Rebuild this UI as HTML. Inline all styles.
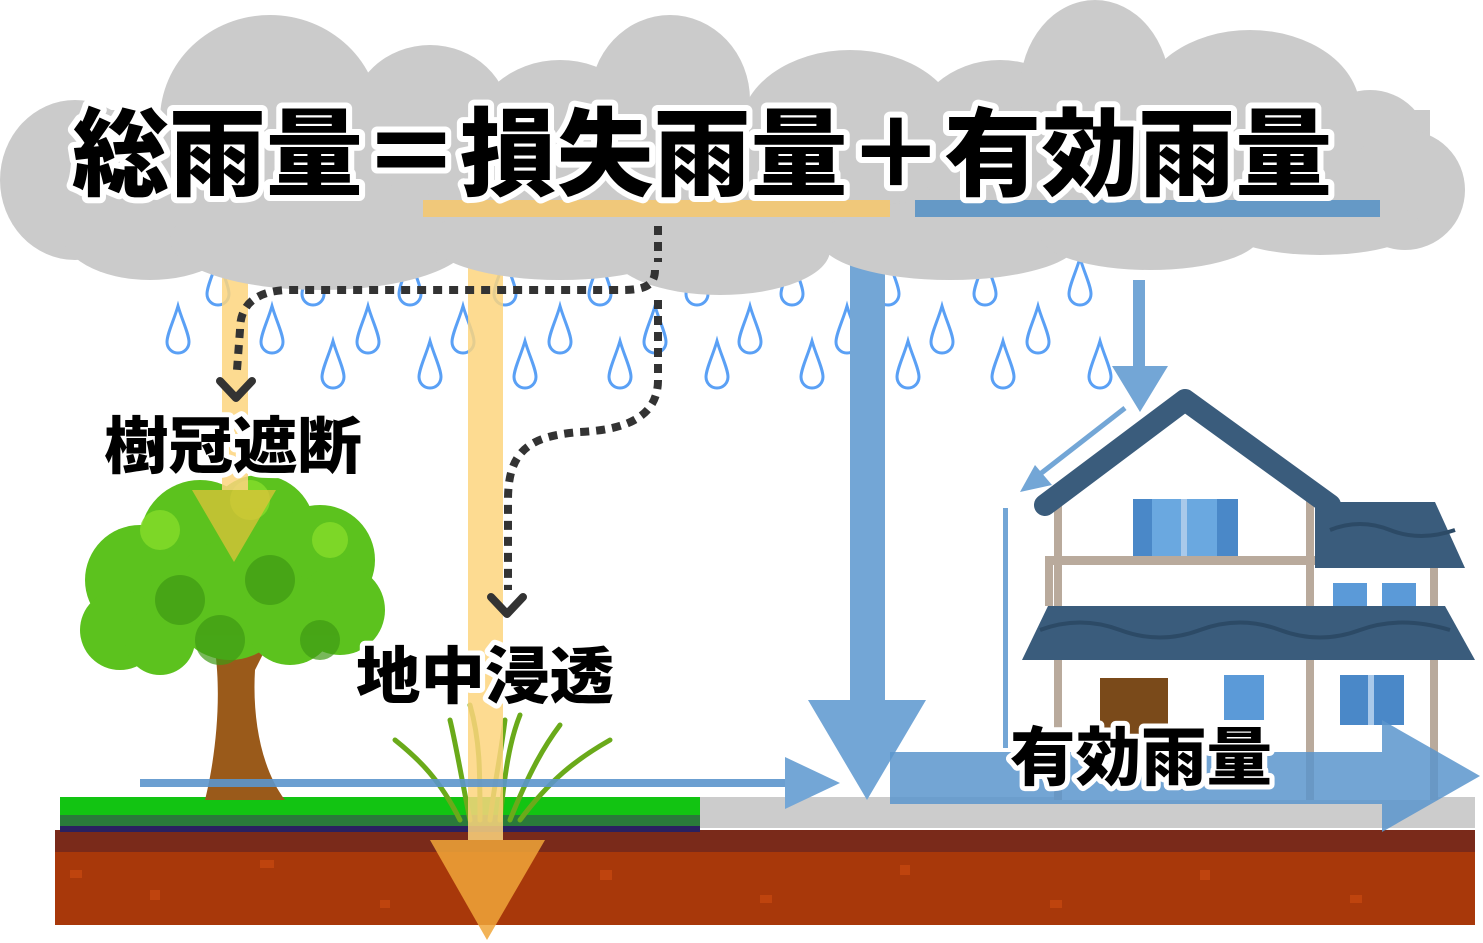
<!DOCTYPE html>
<html><head><meta charset="utf-8"><style>
html,body{margin:0;padding:0;background:#fff;}
svg{display:block}
text{font-family:"Liberation Sans","Noto Sans CJK JP",sans-serif;font-weight:900;}
</style></head><body>
<svg width="1483" height="943" viewBox="0 0 1483 943" xmlns="http://www.w3.org/2000/svg">
<defs>
<path id="drop" d="M0,-24 C4,-10 11,4 11,12 A11,11 0 0 1 -11,12 C-11,4 -4,-10 0,-24 Z" fill="none" stroke="#5aa0f5" stroke-width="3"/>
</defs>
<rect width="1483" height="943" fill="#fff"/>

<g>
<use href="#drop" x="218" y="282"/><use href="#drop" x="313" y="282"/><use href="#drop" x="410" y="282"/><use href="#drop" x="505" y="282"/><use href="#drop" x="600" y="282"/><use href="#drop" x="697" y="282"/><use href="#drop" x="792" y="282"/><use href="#drop" x="888" y="282"/><use href="#drop" x="985" y="282"/><use href="#drop" x="1080" y="282"/>
<use href="#drop" x="178" y="330"/><use href="#drop" x="272" y="330"/><use href="#drop" x="368" y="330"/><use href="#drop" x="463" y="330"/><use href="#drop" x="560" y="330"/><use href="#drop" x="655" y="330"/><use href="#drop" x="750" y="330"/><use href="#drop" x="847" y="330"/><use href="#drop" x="942" y="330"/><use href="#drop" x="1038" y="330"/>
<use href="#drop" x="333" y="365"/><use href="#drop" x="430" y="365"/><use href="#drop" x="525" y="365"/><use href="#drop" x="620" y="365"/><use href="#drop" x="717" y="365"/><use href="#drop" x="812" y="365"/><use href="#drop" x="908" y="365"/><use href="#drop" x="1003" y="365"/><use href="#drop" x="1100" y="365"/>
</g>

<rect x="55" y="830" width="1420" height="95" fill="#a8380a"/>
<rect x="55" y="830" width="1420" height="22" fill="#7a2a1a"/>
<rect x="60" y="797" width="640" height="22" fill="#12c412"/>
<rect x="60" y="815" width="640" height="15" fill="#2a7a3a"/>
<rect x="60" y="826" width="640" height="6" fill="#2a2060"/>
<rect x="700" y="797" width="775" height="31" fill="#cccccc"/>
<g fill="#c94a10" opacity="0.7">
<rect x="70" y="870" width="12" height="8"/><rect x="150" y="890" width="10" height="10"/><rect x="260" y="860" width="14" height="8"/><rect x="380" y="900" width="10" height="8"/><rect x="600" y="870" width="12" height="10"/><rect x="760" y="895" width="12" height="8"/><rect x="900" y="865" width="10" height="10"/><rect x="1050" y="900" width="12" height="8"/><rect x="1200" y="870" width="10" height="10"/><rect x="1350" y="895" width="12" height="8"/>
</g>

<g>
<path d="M205,800 C215,760 222,700 215,650 L200,620 L210,615 L225,640 L235,610 L250,612 L245,650 L265,625 L275,630 L255,670 C252,720 262,770 285,800 Z" fill="#9a5a1a"/>
<g fill="#5cc21e">
<circle cx="140" cy="580" r="55"/><circle cx="200" cy="540" r="60"/><circle cx="260" cy="530" r="55"/><circle cx="320" cy="560" r="55"/><circle cx="340" cy="610" r="45"/><circle cx="120" cy="630" r="40"/><circle cx="230" cy="600" r="60"/><circle cx="290" cy="620" r="45"/><circle cx="160" cy="640" r="35"/>
</g>
<g fill="#3f9a14" opacity="0.7">
<circle cx="180" cy="600" r="25"/><circle cx="270" cy="580" r="25"/><circle cx="320" cy="640" r="20"/><circle cx="220" cy="640" r="25"/>
</g>
<g fill="#86dd2a" opacity="0.8">
<circle cx="160" cy="530" r="20"/><circle cx="250" cy="500" r="20"/><circle cx="330" cy="540" r="18"/>
</g>
</g>

<g stroke="#6aaa1a" stroke-width="5" fill="none" stroke-linecap="round">
<path d="M460,820 C440,780 420,760 395,740"/><path d="M470,820 C460,770 455,740 450,720"/><path d="M480,820 C480,770 480,740 470,705"/><path d="M500,820 C505,770 510,740 520,715"/><path d="M510,820 C530,770 545,745 560,725"/><path d="M520,820 C550,780 575,760 610,740"/><path d="M490,820 C495,780 500,760 505,720"/>
</g>

<rect x="222" y="255" width="26" height="235" fill="#fdd57e" opacity="0.85"/>
<polygon points="192,490 276,490 234,562" fill="#e8c23a" opacity="0.7"/>
<rect x="468" y="255" width="35" height="585" fill="#fdd57e" opacity="0.85"/>
<polygon points="430,840 545,840 487,940" fill="#f0a63a" opacity="0.85"/>

<rect x="850" y="255" width="35" height="450" fill="#73a6d6"/>
<polygon points="808,700 926,700 867,800" fill="#73a6d6"/>
<rect x="1133" y="280" width="12" height="90" fill="#73a6d6"/>
<polygon points="1112,366 1168,366 1140,412" fill="#73a6d6"/>
<rect x="140" y="779" width="645" height="8" fill="#5b95cc" opacity="0.9"/>
<polygon points="785,757 840,783 785,809" fill="#73a6d6"/>

<g>
<rect x="1058" y="470" width="255" height="330" fill="#fff"/>
<rect x="1313" y="560" width="125" height="240" fill="#fff"/>
<g fill="#b9aa9c">
<rect x="1054" y="500" width="8" height="300"/><rect x="1306" y="500" width="8" height="300"/><rect x="1430" y="560" width="8" height="240"/>
<rect x="1045" y="556" width="270" height="9"/><rect x="1045" y="556" width="8" height="50"/>
</g>
<rect x="1133" y="499" width="105" height="57" fill="#4a88c8"/>
<rect x="1152" y="499" width="65" height="57" fill="#6aa8e0"/><rect x="1181" y="499" width="6" height="57" fill="#a9c9ea"/>
<rect x="1333" y="583" width="34" height="28" fill="#5b9ad8"/><rect x="1382" y="583" width="34" height="28" fill="#5b9ad8"/>
<polygon points="1315,502 1435,502 1465,568 1315,568" fill="#3a5c7c"/>
<polygon points="1048,606 1445,606 1475,660 1022,660" fill="#3a5c7c"/>
<path d="M1040,630 Q1080,615 1120,630 T1200,630 T1280,630 T1360,630 T1450,630" stroke="#2c4a66" stroke-width="4" fill="none"/>
<path d="M1330,530 Q1360,518 1390,530 T1455,530" stroke="#2c4a66" stroke-width="4" fill="none"/>
<polyline points="1045,505 1185,400 1330,505" stroke="#3a5c7c" stroke-width="22" fill="none" stroke-linecap="round" stroke-linejoin="round"/>
<rect x="1100" y="678" width="68" height="60" fill="#7a4a1a"/>
<rect x="1224" y="675" width="40" height="45" fill="#5b9ad8"/>
<rect x="1340" y="675" width="64" height="50" fill="#4a88c8"/><rect x="1368" y="675" width="6" height="50" fill="#a9c9ea"/>
</g>
<line x1="1125" y1="408" x2="1035" y2="478" stroke="#73a6d6" stroke-width="5"/>
<polygon points="1020,492 1035,465 1052,485" fill="#73a6d6"/>
<rect x="1003" y="508" width="5" height="240" fill="#73a6d6"/>

<rect x="890" y="752" width="492" height="52" fill="#5b95cc" opacity="0.85"/>
<polygon points="1382,720 1480,776 1382,832" fill="#5b95cc" opacity="0.85"/>

<g fill="#cbcbcb">
<rect x="60" y="110" width="1370" height="130"/>
<ellipse cx="75" cy="180" rx="75" ry="80"/>
<ellipse cx="270" cy="120" rx="110" ry="105"/>
<ellipse cx="430" cy="120" rx="80" ry="75"/>
<ellipse cx="560" cy="140" rx="90" ry="80"/>
<ellipse cx="670" cy="100" rx="80" ry="85"/>
<ellipse cx="850" cy="130" rx="110" ry="80"/>
<ellipse cx="1000" cy="140" rx="90" ry="80"/>
<ellipse cx="1095" cy="90" rx="75" ry="90"/>
<ellipse cx="1250" cy="110" rx="110" ry="80"/>
<ellipse cx="1370" cy="150" rx="60" ry="60"/>
<ellipse cx="1405" cy="190" rx="60" ry="60"/>
<ellipse cx="150" cy="230" rx="90" ry="50"/>
<ellipse cx="320" cy="240" rx="150" ry="50"/>
<ellipse cx="560" cy="240" rx="130" ry="40"/>
<ellipse cx="720" cy="250" rx="110" ry="45"/>
<ellipse cx="950" cy="240" rx="130" ry="40"/>
<ellipse cx="1150" cy="235" rx="110" ry="35"/>
<ellipse cx="1320" cy="225" rx="100" ry="30"/>
</g>

<rect x="423" y="200" width="467" height="17" fill="#f0c87a"/>
<rect x="915" y="200" width="465" height="17" fill="#6599c6"/>

<g stroke="#333" stroke-width="8" fill="none" stroke-dasharray="9,7">
<line x1="658" y1="226" x2="658" y2="262"/>
<path d="M655,270 C655,288 640,290 620,290 L285,290 C255,292 240,305 240,330 L237,370"/>
<path d="M658,300 L658,380 C658,420 620,430 580,432 C530,436 508,450 508,500 L508,590"/>
</g>
<g stroke="#333" stroke-width="8" fill="none" stroke-linecap="round" stroke-linejoin="round">
<polyline points="220,381 236,398 252,381"/>
<polyline points="491,597 507,614 523,597"/>
</g>

<g font-size="96" stroke="#fff" stroke-width="12" stroke-linejoin="round" paint-order="stroke" fill="#000">
<text x="72" y="188" textLength="1260" lengthAdjust="spacingAndGlyphs">総雨量＝損失雨量＋有効雨量</text>
</g>
<g stroke="#fff" stroke-width="10" stroke-linejoin="round" paint-order="stroke" fill="#000">
<text x="104" y="468" font-size="62" textLength="258" lengthAdjust="spacingAndGlyphs">樹冠遮断</text>
<text x="356" y="698" font-size="62" textLength="258" lengthAdjust="spacingAndGlyphs">地中浸透</text>
<text x="1010" y="780" font-size="64" textLength="262" lengthAdjust="spacingAndGlyphs">有効雨量</text>
</g>
</svg>
</body></html>
